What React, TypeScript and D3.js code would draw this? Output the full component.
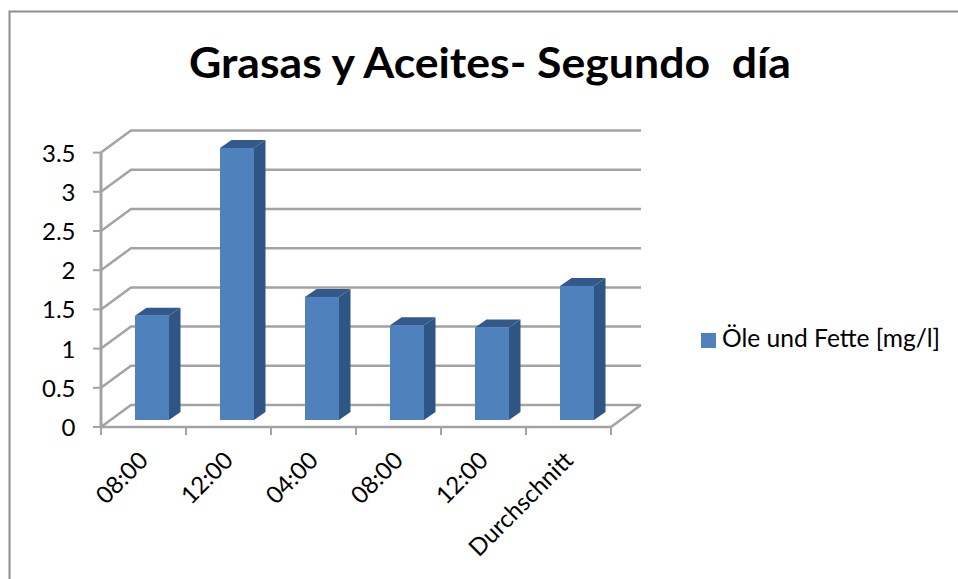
import React from "react";
import * as d3 from "d3";

const categories = ["08:00", "12:00", "04:00", "08:00", "12:00", "Durchschnitt"];
const values = [1.33, 3.47, 1.57, 1.21, 1.18, 1.71];
const yTicks = [0, 0.5, 1, 1.5, 2, 2.5, 3, 3.5];
const title = "Grasas y Aceites- Segundo  día";
const legendLabel = "Öle und Fette [mg/l]";

const width = 958;
const height = 579;
const font = "Lato, Carlito, Calibri, sans-serif";

// Front plane of the 3D plot box, and the depth offset to its back wall.
const plotLeft = 101;
const plotRight = 611;
const depthX = 30;
const depthY = -22;
const y = d3.scaleLinear().domain([0, 3.5]).range([427, 152.6]);
const slot = d3.scaleBand<number>().domain(d3.range(categories.length)).range([plotLeft, plotRight]);

// Columns stand a little way into the floor, so their band is shifted into the box.
const columnShiftX = 8.5;
const columnShiftY = -7;
const x = d3
  .scaleBand<number>()
  .domain(d3.range(categories.length))
  .range([plotLeft + columnShiftX, plotRight + columnShiftX])
  .paddingInner(0.6)
  .paddingOuter(0.3);
const columnDepthX = 11.5;
const columnDepthY = -8;

const gridColor = "#a3a3a3";
const borderColor = "#8e8e8e";

export default function App() {
  return (
    <svg
      width={width}
      height={height}
      style={{ position: "absolute", left: 0, top: 0, background: "#fff" }}
      fontFamily={font}
    >
      {/* chart frame, open on the right and at the bottom */}
      <path d={`M9.5,${height}V11.5H${width}`} fill="none" stroke={borderColor} strokeWidth={2} />
      <text
        x={490}
        y={78}
        textAnchor="middle"
        fontSize={42}
        fontWeight={700}
        fill="#000"
        style={{ whiteSpace: "pre" }}
        textLength={602}
        lengthAdjust="spacingAndGlyphs"
      >
        {title}
      </text>

      {/* back wall gridlines with their slanted side-wall segments */}
      {yTicks.map((t) => (
        <path
          key={t}
          d={`M${plotLeft},${y(t)}L${plotLeft + depthX},${y(t) + depthY}H${plotRight + depthX}`}
          fill="none"
          stroke={gridColor}
          strokeWidth={2.5}
        />
      ))}
      {/* floor front edge and right edge */}
      <path
        d={`M${plotLeft},${y(0)}H${plotRight}L${plotRight + depthX},${y(0) + depthY}`}
        fill="none"
        stroke={gridColor}
        strokeWidth={2.5}
      />
      {/* value axis */}
      <path d={`M${plotLeft},${y(3.5)}V${y(0)}`} fill="none" stroke={gridColor} strokeWidth={3} />
      {yTicks.map((t) => (
        <g key={t}>
          <line x1={93} x2={plotLeft} y1={y(t)} y2={y(t)} stroke={gridColor} strokeWidth={2} />
          <text x={75.5} y={y(t) + 9} textAnchor="end" fontSize={24} fill="#000">
            {t}
          </text>
        </g>
      ))}
      {/* category tick marks */}
      {d3.range(categories.length + 1).map((i) => {
        const px = plotLeft + i * slot.step();
        return <line key={i} x1={px} x2={px} y1={y(0)} y2={y(0) + 8} stroke={gridColor} strokeWidth={2} />;
      })}

      {/* 3D columns */}
      {values.map((v, i) => {
        const left = x(i)!;
        const right = left + x.bandwidth();
        const bottom = y(0) + columnShiftY;
        const top = y(v) + columnShiftY;
        return (
          <g key={i}>
            <path
              d={`M${right},${bottom}L${right + columnDepthX},${bottom + columnDepthY}V${top + columnDepthY}L${right},${top}Z`}
              fill="#2f5585"
            />
            <path
              d={`M${left},${top}L${left + columnDepthX},${top + columnDepthY}H${right + columnDepthX}L${right},${top}Z`}
              fill="#33598c"
            />
            <rect x={left} y={top} width={right - left} height={bottom - top} fill="#4f81bd" />
          </g>
        );
      })}

      {/* category labels rotated along the axis */}
      {categories.map((c, i) => {
        const px = slot(i)! + slot.bandwidth() / 2;
        return (
          <text
            key={i}
            transform={`translate(${px + 6},${462}) rotate(-45)`}
            textAnchor="end"
            fontSize={24}
            fill="#000"
          >
            {c}
          </text>
        );
      })}

      {/* legend */}
      <rect x={701} y={333} width={15} height={15} fill="#4f81bd" />
      <text x={722} y={347} fontSize={24.6} fill="#000">
        {legendLabel}
      </text>
    </svg>
  );
}
